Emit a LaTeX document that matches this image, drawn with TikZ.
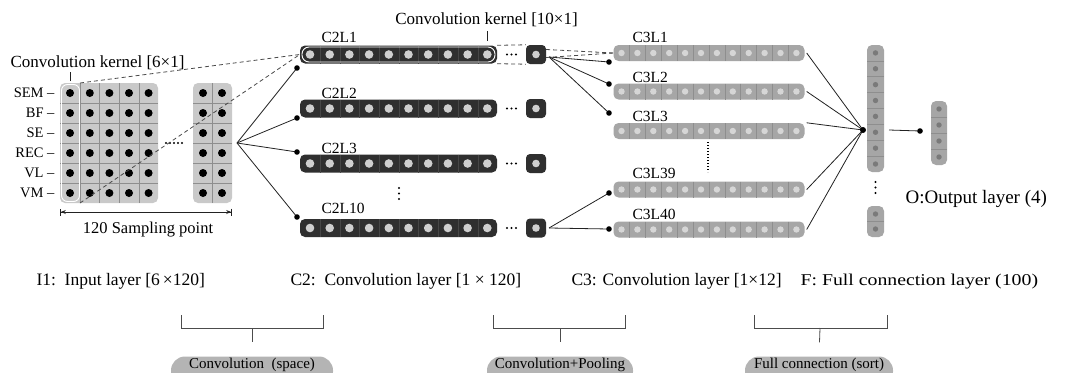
\documentclass[tikz,border=0pt]{standalone}
\usepackage{fontspec}
\setmainfont{Liberation Serif}
\newfontfamily\widefont[FakeStretch=1.2]{Liberation Serif}
\usetikzlibrary{arrows.meta}
\definecolor{gridgray}{HTML}{C9C9C9}
\definecolor{cellgray}{HTML}{8E8E8E}
\definecolor{barblack}{HTML}{2F2F2F}
\definecolor{barsep}{HTML}{474747}
\definecolor{dotlight}{HTML}{CFCFCF}
\definecolor{bargray}{HTML}{A6A6A6}
\definecolor{dotpale}{HTML}{D6D6D6}
\definecolor{dotdark}{HTML}{7A7A7A}
\definecolor{pillgray}{HTML}{B4B4B4}
\definecolor{linkblack}{HTML}{222222}
\definecolor{guidegray}{HTML}{4A4A4A}

\tikzset{
  ingrid/.style={fill=gridgray, rounded corners=5pt, minimum width=98pt, minimum height=120pt, inner sep=0pt},
  c2bar/.style={fill=barblack, rounded corners=5pt, minimum width=197pt, minimum height=18pt, inner sep=0pt},
  poolbox/.style={fill=barblack, rounded corners=4pt, minimum width=20pt, minimum height=19pt, inner sep=0pt},
  c3bar/.style={fill=bargray, rounded corners=5pt, minimum width=191pt, minimum height=16pt, inner sep=0pt},
  fcolumn/.style={fill=bargray, rounded corners=5pt, minimum width=17pt, inner sep=0pt},
  pill/.style={fill=pillgray, rounded corners=14pt, minimum height=29pt, inner sep=0pt,
    text height=8pt, text depth=14pt, font=\fontsize{15}{18}\selectfont},
  kernel/.style={draw=white, line width=0.9pt, rounded corners=6pt, inner sep=0pt},
  cellline/.style={draw=cellgray, line width=0.6pt},
  link/.style={draw=linkblack, line width=0.8pt},
  guide/.style={draw=guidegray, line width=0.8pt, dash pattern=on 4pt off 3pt},
  bracket/.style={draw=black!70, line width=0.8pt},
  rowname/.style={anchor=east, font=\fontsize{14.5}{17}\selectfont},
  layername/.style={anchor=base west, font=\fontsize{15.5}{18}\selectfont},
  kernelname/.style={anchor=base, font=\fontsize{17}{20}\selectfont},
  caption/.style={anchor=base west, font=\fontsize{17.5}{21}\selectfont},
}

\begin{document}
\begin{tikzpicture}[x=1pt,y=-1pt,>=Stealth]
  \useasboundingbox (0,0) rectangle (1065,372);
  \clip (0,0) rectangle (1065,372);
  \fill[white] (0,0) rectangle (1065,372);

  % input layer: 6 channels
  \node[ingrid] (in1) at (109,143) {};
  \node[ingrid, minimum width=39pt] (in2) at (212.5,143) {};
  \foreach \x in {80,99.6,119.2,138.8,212.5}
    \draw[cellline] (\x,83) -- (\x,203);
  \foreach \y in {103,123,...,183} {
    \draw[cellline] (60,\y) -- (158,\y);
    \draw[cellline] (193,\y) -- (232,\y);
  }
  \foreach \y in {93,113,...,193} {
    \foreach \x in {70,89.8,109.4,129,148.6,203,222}
      \fill (\x,\y) circle (4);
  }
  \foreach \i in {0,...,4}
    \fill ({166+\i*4},143) circle (1.1);
  \foreach \name [count=\r] in {SEM,BF,SE,REC,VL,VM}
    \node[rowname] (row\r) at (58,{73+20*\r}) {\name\ --};

  \node[kernel, minimum width=18pt, minimum height=117pt] (kern1) at (70.5,143) {};
  \draw[link] ([yshift=3pt]kern1.north) -- ++(0,-9);
  \node[kernelname] (k6) at (97.5,67) {Convolution kernel [6×1]};

  \coordinate (dimL) at (60,212);
  \coordinate (dimR) at (232,212);
  \draw[link, {Bar[width=7pt]Stealth[length=5pt,width=4pt]}-{Stealth[length=5pt,width=4pt]Bar[width=7pt]}] (dimL) -- (dimR);
  \node[anchor=base, font=\fontsize{16.5}{19}\selectfont] (samp) at (148,233) {120 Sampling point};

  % C2 feature maps and pooling
  \foreach \n/\y/\ly/\dy in {1/54.5/42/68, 2/108.5/98/118, 3/163.5/153/152, 10/228/213/217} {
    \node[c2bar] (c2l\n) at (398.5,\y) {};
    \foreach \i in {1,...,9}
      \draw[barsep, line width=0.6pt] ({300.5+\i*19.7},{\y-9}) -- ++(0,18);
    \foreach \i in {0,...,9}
      \fill[dotlight] ({310+\i*19.7},\y) circle (4.3);
    \node[layername] at (318,\ly) {C2L\n};
    \foreach \i in {0,1,2}
      \fill ({507+\i*4.5},\y) circle (1.1);
    \node[poolbox] (pool\n) at (536,\y) {};
    \fill[dotlight] (pool\n) circle (3.8);
    \coordinate (c2in\n) at (297,\dy);
  }
  \foreach \i in {0,1,2}
    \fill (399,{188+\i*5.5}) circle (1.1);

  \node[kernel, minimum width=193pt, minimum height=15pt, rounded corners=7pt] (kern2) at (398.5,54.5) {};
  \draw[link] (487,31) -- (487,41);
  \node[kernelname] (k10) at (486.5,24) {Convolution kernel [10×1]};

  \coordinate (fanA) at (237,143);
  \foreach \n in {1,2,3,10} {
    \draw[link] (fanA) -- (c2in\n);
    \fill (c2in\n) circle (2.8);
  }

  % C3 feature maps
  \foreach \n/\y/\ly in {1/53/42, 2/91.5/82, 3/131/121, 39/189.5/178, 40/229.5/219} {
    \node[c3bar] (c3l\n) at (709,\y) {};
    \foreach \i in {1,...,11}
      \draw[cellgray, line width=0.6pt] ({613.5+\i*15.9},{\y-8}) -- ++(0,16);
    \foreach \i in {0,...,11}
      \fill[dotpale] ({621.5+\i*15.9},\y) circle (3.2);
    \node[layername] at (629,\ly) {C3L\n};
  }
  \draw[line width=1.3pt, dash pattern=on 1.3pt off 1.7pt] (708,142) -- (708,172);

  \coordinate (c3in1) at (609,62);
  \coordinate (c3in2) at (609,84);
  \coordinate (c3in3) at (609,113);
  \coordinate (c3in39) at (609,193);
  \coordinate (c3in40) at (609,229);
  \coordinate (fanB) at (549,57);
  \coordinate (fanC) at (549,228);
  \foreach \n in {1,2,3} {
    \draw[link] (fanB) -- (c3in\n);
    \fill (c3in\n) circle (2.8);
  }
  \foreach \n in {39,40} {
    \draw[link] (fanC) -- (c3in\n);
    \fill (c3in\n) circle (2.8);
  }

  % dashed receptive fields
  \coordinate (g1top) at (80,83);
  \coordinate (g1bot) at (80,203);
  \draw[guide] (g1top) -- (c2l1.west);
  \draw[guide] (g1bot) -- (c2l1.west);
  \draw[guide] (c2l1.north east) -- (pool1.north west);
  \draw[guide] (c2l1.south east) -- (pool1.south west);
  \draw[guide] ([yshift=5pt]pool1.east) -- (c3l1.west);
  \draw[guide] ([yshift=-3pt]pool1.east) -- (c3l1.west);

  % full connection layer
  \node[fcolumn, minimum height=127pt] (fcol) at (875.5,108.5) {};
  \foreach \i in {1,...,7}
    \draw[cellgray, line width=0.6pt] (867,{45+\i*15.875}) -- (884,{45+\i*15.875});
  \foreach \i in {0,...,7}
    \fill[dotdark] (875.5,{52.9+\i*15.875}) circle (2.7);
  \foreach \i in {0,1,2}
    \fill (875.5,{182+\i*5.5}) circle (1.1);
  \node[fcolumn, minimum height=31pt] (fcol2) at (875.5,221.5) {};
  \draw[cellgray, line width=0.6pt] (867,221.5) -- (884,221.5);
  \fill[dotdark] (875.5,214) circle (2.7);
  \fill[dotdark] (875.5,229) circle (2.7);

  \coordinate (fjoin) at (863,130);
  \foreach \n in {1,2,39,40}
    \draw[link] ([xshift=2pt]c3l\n.east) -- (fjoin);
  \draw[link] ([xshift=2pt]c3l3.north east) -- (fjoin);
  \fill (fjoin) circle (3);

  % output layer
  \node[fcolumn, minimum width=16pt, minimum height=64pt] (ocol) at (939,133) {};
  \foreach \y in {117,133,149}
    \draw[cellgray, line width=0.6pt] (931,\y) -- (947,\y);
  \foreach \y in {109,125,141,157}
    \fill[dotdark] (939,\y) circle (2.7);
  \coordinate (fout) at (889,130);
  \coordinate (oin) at (920,131);
  \draw[link] (fout) -- (oin);
  \fill (oin) circle (2.8);
  \node[anchor=base west, font=\fontsize{19}{22}\selectfont] (olabel) at (902,203) {O:Output layer (4)};

  % layer captions
  \node[caption] (capI) at (33,285) {I1:\ \ Input layer [6\,×120]};
  \node[caption] (capC2) at (287,285) {C2:\ \ Convolution layer [1 × 120]};
  \node[caption] (capC3) at (568,285) {C3: Convolution layer [1×12]};
  \node[caption, font=\widefont\fontsize{16.5}{20}\selectfont] (capF) at (797,285) {F: Full connection layer (100)};

  % operations
  \node[pill, minimum width=162pt] (op1) at (252,371) {Convolution\ \ (space)};
  \node[pill, minimum width=146pt] (op2) at (560,371) {Convolution+Pooling};
  \node[pill, minimum width=148pt] (op3) at (819,371) {Full connection (sort)};
  \foreach \n/\l/\r/\m in {1/181/323/252, 2/493/625/560, 3/754/887/820} {
    \draw[bracket] (\l,315) -- (\l,328) -- (\r,328) -- (\r,315);
    \draw[bracket, shorten >=14pt] (\m,328) -- (op\n.north);
  }
\end{tikzpicture}
\end{document}
